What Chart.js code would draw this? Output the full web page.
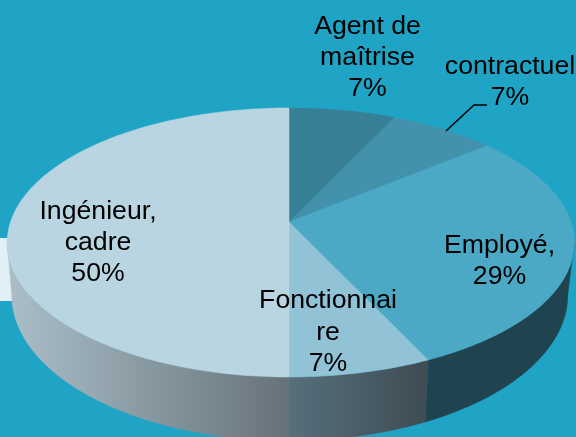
<!DOCTYPE html>
<html>
<head>
<meta charset="utf-8">
<style>html,body{margin:0;padding:0;background:#20A4C6}canvas{display:block}</style>
<script src="https://cdn.jsdelivr.net/npm/chart.js@4"></script>
</head>
<body>
<canvas id="c" width="576" height="437"></canvas>
<script>
const categories = ['Agent de maîtrise', 'contractuel', 'Employé', 'Fonctionnaire', 'Ingénieur, cadre'];
const shares = [7, 7, 29, 7, 50];
const labelLines = [['Agent de', 'maîtrise'], ['contractuel'], ['Employé,'], ['Fonctionnai', 're'], ['Ingénieur,', 'cadre']];
const topColors = ['#377F94', '#4392AC', '#4BA9C6', '#92C2D5', '#B9D5E1'];

const wallStyles = [null, null, ['#1F4450', '#1F4450'], ['#3E4C54', '#56707C'], ['#66727A', '#AABEC8']];
const labelAnchors = [[367.5, 27, 31], [510, 66.5, 31], [499.5, 246, 31], [328, 301, 31.5], [98, 212, 31]];
const topRim = {cx: 289, Rr: 282, Rl: 278.5, a: 97.54, b: 222};
const lowRim = {cx: 289, Rr: 275.5, Rl: 274, a: 100.7, b: 272.7};
const persp = -0.1524;
const wallFrom = 1.722, wallTo = 4.561;

function project(rim, theta) {
  const u = Math.sin(theta), v = -Math.cos(theta), w = 1 + persp * v;
  return [rim.cx + (u >= 0 ? rim.Rr : rim.Rl) * u / w, (rim.b + rim.a * v) / w];
}
function trace(ctx, rim, t0, t1, first) {
  const n = Math.max(2, Math.ceil(Math.abs(t1 - t0) * 60));
  for (let i = 0; i <= n; i++) {
    const p = project(rim, t0 + (t1 - t0) * i / n);
    if (i === 0 && first) ctx.moveTo(p[0], p[1]); else ctx.lineTo(p[0], p[1]);
  }
}
const pie3d = {
  id: 'pie3d',
  beforeDraw(chart) {
    const ctx = chart.ctx;
    ctx.save();
    ctx.fillStyle = '#20A4C6';
    ctx.fillRect(0, 0, chart.width, chart.height);
    ctx.fillStyle = '#E1F0F7';
    ctx.fillRect(0, 238, 30, 63);
    ctx.restore();
  },
  beforeDatasetsDraw(chart) {
    const ctx = chart.ctx, arcs = chart.getDatasetMeta(0).data;
    ctx.save();
    arcs.forEach((arc, i) => {
      const style = wallStyles[i];
      if (!style) return;
      const t0 = Math.max(arc.startAngle + Math.PI / 2, wallFrom);
      const t1 = Math.min(arc.endAngle + Math.PI / 2, wallTo);
      if (t1 <= t0) return;
      const x0 = project(lowRim, t0)[0], x1 = project(lowRim, t1)[0];
      const g = ctx.createLinearGradient(x0, 0, x1, 0);
      g.addColorStop(0, style[0]);
      g.addColorStop(1, style[1]);
      ctx.beginPath();
      trace(ctx, topRim, t0, t1, true);
      trace(ctx, lowRim, t1, t0, false);
      ctx.closePath();
      ctx.fillStyle = g;
      ctx.strokeStyle = g;
      ctx.lineWidth = 0.5;
      ctx.fill();
      ctx.stroke();
    });
    arcs.forEach((arc, i) => {
      const t0 = arc.startAngle + Math.PI / 2, t1 = arc.endAngle + Math.PI / 2;
      ctx.beginPath();
      ctx.moveTo(topRim.cx, topRim.b);
      trace(ctx, topRim, t0, t1, false);
      ctx.closePath();
      ctx.fillStyle = arc.options.backgroundColor;
      ctx.strokeStyle = arc.options.backgroundColor;
      ctx.lineWidth = 0.5;
      ctx.fill();
      ctx.stroke();
    });
    ctx.restore();
    return false;
  },
  afterDraw(chart) {
    const ctx = chart.ctx;
    ctx.save();
    ctx.strokeStyle = '#000';
    ctx.lineWidth = 1.6;
    ctx.beginPath();
    ctx.moveTo(446, 131);
    ctx.lineTo(474, 105);
    ctx.lineTo(487, 105);
    ctx.stroke();
    ctx.fillStyle = '#000';
    ctx.font = '26.67px "Liberation Sans", Arial, sans-serif';
    ctx.textAlign = 'center';
    ctx.textBaseline = 'middle';
    shares.forEach((s, i) => {
      const lines = labelLines[i].concat([s + '%']);
      const a = labelAnchors[i];
      lines.forEach((line, k) => ctx.fillText(line, a[0], a[1] + k * a[2]));
    });
    ctx.restore();
  }
};
new Chart(document.getElementById('c'), {
  type: 'pie',
  data: {labels: categories, datasets: [{data: shares, backgroundColor: topColors, borderWidth: 0}]},
  options: {
    responsive: false,
    animation: false,
    layout: {padding: 0},
    plugins: {legend: {display: false}, tooltip: {enabled: false}}
  },
  plugins: [pie3d]
});
</script>
</body>
</html>
